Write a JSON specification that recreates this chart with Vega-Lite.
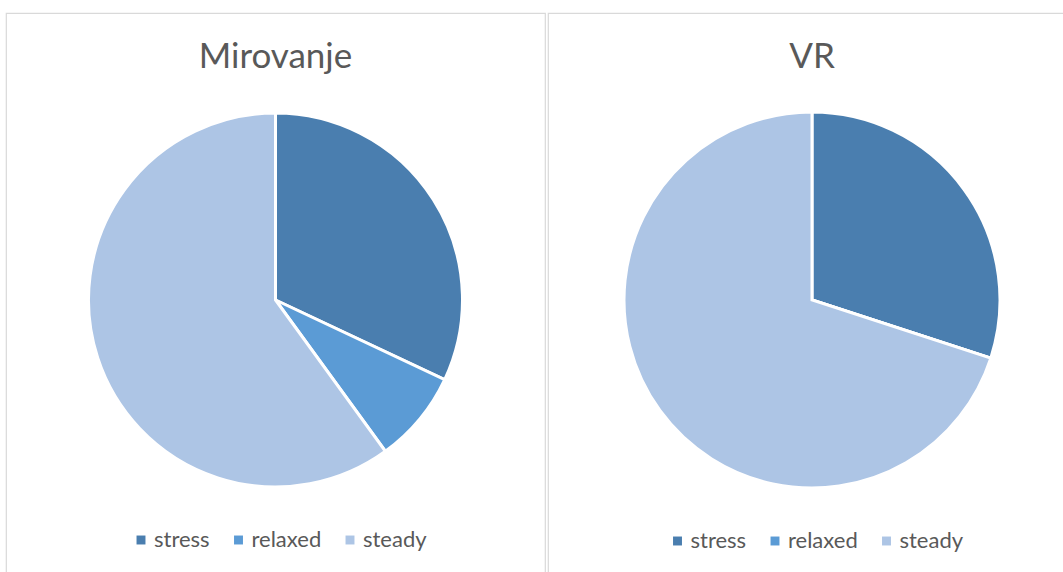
{
  "$schema": "https://vega.github.io/schema/vega-lite/v6.json",
  "padding": {"left": 5, "top": 12, "right": 0, "bottom": 0},
  "background": "white",
  "spacing": 1,
  "config": {
    "view": {"stroke": "#D9D9D9", "strokeWidth": 1},
    "font": "Lato"
  },
  "resolve": {"scale": {"color": "independent", "theta": "independent"}, "legend": {"color": "independent"}},
  "hconcat": [
    {
      "width": 539,
      "height": 574,
      "view": {"stroke": "#D9D9D9", "strokeWidth": 1.2},
      "title": {"text": "Mirovanje", "offset": -90, "baseline": "alphabetic", "fontSize": 35, "font": "Lato", "fontWeight": "normal", "color": "#595959"},
      "data": {"values": [
        {"state": "stress", "value": 32, "k": 1},
        {"state": "relaxed", "value": 8, "k": 2},
        {"state": "steady", "value": 60, "k": 3}
      ]},
      "mark": {"type": "arc", "radius": 187, "stroke": "white", "strokeWidth": 3},
      "encoding": {
        "theta": {"field": "value", "type": "quantitative", "stack": true},
        "order": {"field": "k", "type": "quantitative"},
        "color": {
          "field": "state", "type": "nominal",
          "scale": {"domain": ["stress", "relaxed", "steady"], "range": ["#4A7EAF", "#5B9BD5", "#ADC5E5"]},
          "legend": {"orient": "none", "legendX": 124, "legendY": 516, "direction": "horizontal", "title": null, "symbolType": "square", "symbolSize": 80, "symbolStrokeWidth": 0, "labelFontSize": 22, "labelFont": "Lato", "labelColor": "#595959", "columnPadding": 17.5, "labelOffset": 2}
        }
      }
    },
    {
      "width": 528,
      "height": 574,
      "view": {"stroke": "#D9D9D9", "strokeWidth": 1.2},
      "title": {"text": "VR", "offset": -90, "baseline": "alphabetic", "fontSize": 35, "font": "Lato", "fontWeight": "normal", "color": "#595959"},
      "data": {"values": [
        {"state": "stress", "value": 30, "k": 1},
        {"state": "relaxed", "value": 0, "k": 2},
        {"state": "steady", "value": 70, "k": 3}
      ]},
      "mark": {"type": "arc", "radius": 188, "stroke": "white", "strokeWidth": 3},
      "encoding": {
        "theta": {"field": "value", "type": "quantitative", "stack": true},
        "order": {"field": "k", "type": "quantitative"},
        "color": {
          "field": "state", "type": "nominal",
          "scale": {"domain": ["stress", "relaxed", "steady"], "range": ["#4A7EAF", "#5B9BD5", "#ADC5E5"]},
          "legend": {"orient": "none", "legendX": 118.5, "legendY": 517, "direction": "horizontal", "title": null, "symbolType": "square", "symbolSize": 80, "symbolStrokeWidth": 0, "labelFontSize": 22, "labelFont": "Lato", "labelColor": "#595959", "columnPadding": 17.5, "labelOffset": 2}
        }
      }
    }
  ]
}
